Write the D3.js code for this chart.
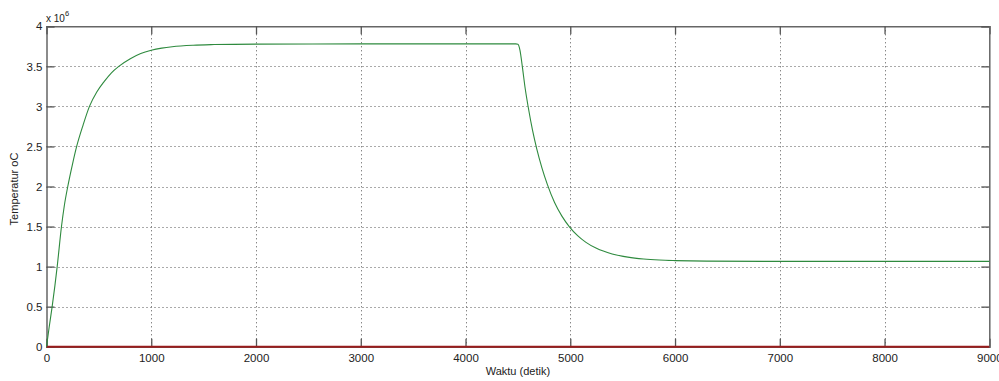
<!DOCTYPE html>
<html>
<head>
<meta charset="utf-8">
<script src="https://cdn.jsdelivr.net/npm/d3@7"></script>
<style>
  body { margin: 0; background: #fff; }
  svg { display: block; }
  text { font-family: "Liberation Sans", Arial, sans-serif; fill: #222; }
</style>
</head>
<body>
<div id="chart"></div>
<script>
// waktu (detik) dan suhu (x 10^6)
var waktu = [0, 25, 54, 80, 102, 143, 170, 203, 250, 288, 350, 410, 480, 550, 620, 690, 800, 900, 1000, 1100, 1200, 1400, 1600, 2000, 3000, 4000, 4480, 4500, 4520, 4542, 4570, 4600, 4640, 4680, 4730, 4780, 4850, 4920, 4990, 5070, 5150, 5250, 5400, 5550, 5700, 5850, 6000, 6300, 7000, 8000, 9000];
var suhu = [0, 0.24, 0.5, 0.76, 1.0, 1.5, 1.76, 2.0, 2.29, 2.5, 2.77, 3.0, 3.18, 3.31, 3.42, 3.5, 3.595, 3.66, 3.7, 3.727, 3.745, 3.764, 3.772, 3.778, 3.78, 3.78, 3.78, 3.776, 3.7, 3.5, 3.22, 2.98, 2.7, 2.47, 2.23, 2.03, 1.8, 1.63, 1.5, 1.387, 1.303, 1.228, 1.158, 1.118, 1.095, 1.082, 1.075, 1.068, 1.065, 1.065, 1.065];
var nol = [0, 0];
var waktuNol = [0, 9000];

var xTicks = [0, 1000, 2000, 3000, 4000, 5000, 6000, 7000, 8000, 9000];
var yTicks = [0, 0.5, 1, 1.5, 2, 2.5, 3, 3.5, 4];

var W = 999, H = 381;
var mLeft = 46.5, mRight = 989.3, mTop = 26.3, mBottom = 346.7;

var svg = d3.select("#chart").append("svg")
    .attr("width", W)
    .attr("height", H);

var x = d3.scaleLinear().domain([0, 9000]).range([mLeft, mRight]);
var y = d3.scaleLinear().domain([0, 4]).range([mBottom, mTop]);

// grid
var grid = svg.append("g")
    .attr("stroke", "#555")
    .attr("stroke-width", 1)
    .attr("stroke-dasharray", "1,3");
grid.selectAll(".gx")
    .data(xTicks.slice(1, -1))
    .join("line")
    .attr("class", "gx")
    .attr("x1", d => Math.round(x(d)) + 0.5)
    .attr("x2", d => Math.round(x(d)) + 0.5)
    .attr("y1", mTop)
    .attr("y2", mBottom);
grid.selectAll(".gy")
    .data(yTicks.slice(1, -1))
    .join("line")
    .attr("class", "gy")
    .attr("x1", mLeft)
    .attr("x2", mRight)
    .attr("y1", d => Math.round(y(d)) + 0.5)
    .attr("y2", d => Math.round(y(d)) + 0.5);

// axes with inward ticks, box on
var tl = 8;
var bot = svg.append("g").attr("transform", "translate(0," + mBottom + ")")
    .call(d3.axisBottom(x).tickValues(xTicks).tickSize(-tl).tickPadding(7).tickFormat(d3.format("d")));
var topAx = svg.append("g").attr("transform", "translate(0," + mTop + ")")
    .call(d3.axisTop(x).tickValues(xTicks).tickSize(-tl).tickFormat(""));
var lft = svg.append("g").attr("transform", "translate(" + mLeft + ",0)")
    .call(d3.axisLeft(y).tickValues(yTicks).tickSize(-tl).tickPadding(4).tickFormat(d => d3.format("")(d)));
var rgt = svg.append("g").attr("transform", "translate(" + mRight + ",0)")
    .call(d3.axisRight(y).tickValues(yTicks).tickSize(-tl).tickFormat(""));

[bot, topAx, lft, rgt].forEach(function(g) {
    g.selectAll("path").attr("stroke", "#666").attr("stroke-width", 1.5);
    g.selectAll("line").attr("stroke", "#555").attr("stroke-width", 1.3);
    g.selectAll("text").attr("font-size", 11.5).attr("fill", "#222")
        .style("font-family", "'Liberation Sans', Arial, sans-serif");
});

// lines
var line = d3.line().x(d => x(d[0])).y(d => y(d[1])).curve(d3.curveMonotoneX);

svg.append("path")
    .datum(d3.zip(waktuNol, nol))
    .attr("fill", "none")
    .attr("stroke", "#9a1c1c")
    .attr("stroke-width", 2)
    .attr("d", line);

svg.append("path")
    .datum(d3.zip(waktu, suhu))
    .attr("fill", "none")
    .attr("stroke", "#2e8a3e")
    .attr("stroke-width", 1.1)
    .attr("d", line);

// labels
var ex = svg.append("text").attr("x", 46).attr("y", 22).attr("font-size", 10);
ex.append("tspan").text("x 10");
ex.append("tspan").attr("dy", -6).attr("font-size", 7.5).text("6");

svg.append("text")
    .attr("x", (mLeft + mRight) / 2)
    .attr("y", 375)
    .attr("text-anchor", "middle")
    .attr("font-size", 11)
    .text("Waktu (detik)");

svg.append("text")
    .attr("transform", "translate(18,189) rotate(-90)")
    .attr("text-anchor", "middle")
    .attr("font-size", 11)
    .text("Temperatur oC");
</script>
</body>
</html>
